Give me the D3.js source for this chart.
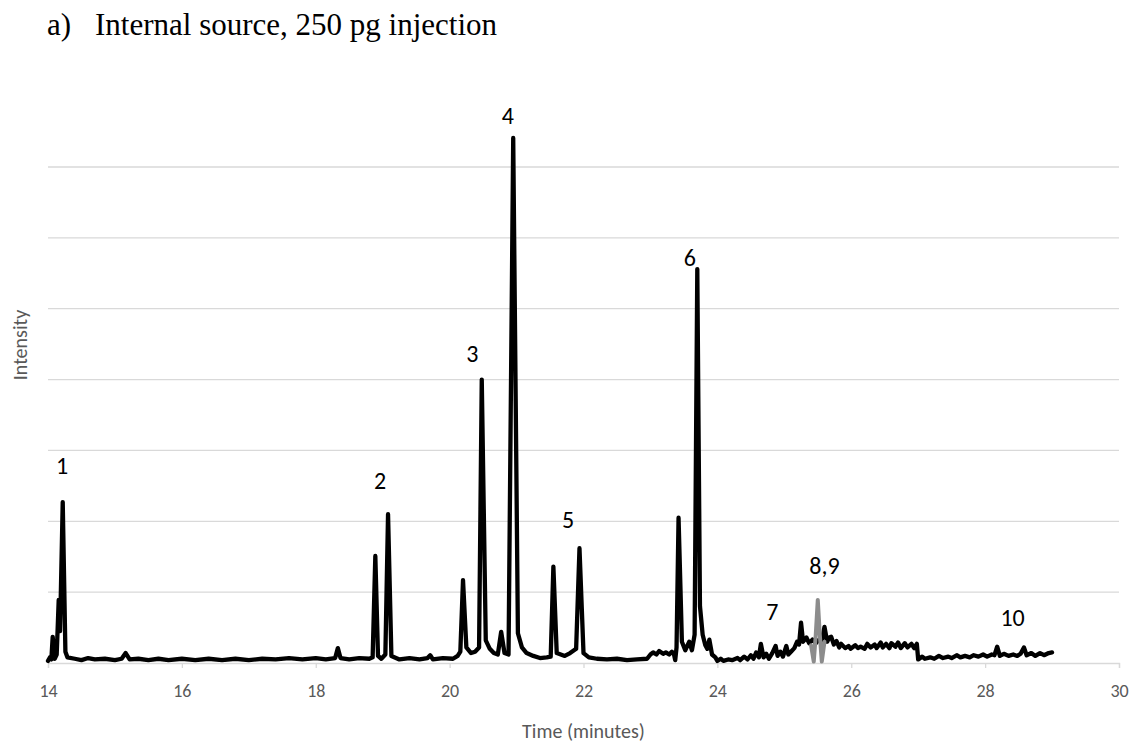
<!DOCTYPE html>
<html>
<head>
<meta charset="utf-8">
<script src="https://cdn.jsdelivr.net/npm/d3@7"></script>
<style>
  body { margin: 0; background: #fff; }
  svg { display: block; }
</style>
</head>
<body>
<div id="chart"></div>
<script>
// chart values (time in minutes, intensity in gridline units)
var xTicks = [14, 16, 18, 20, 22, 24, 26, 28, 30];
var gridLevels = [1, 2, 3, 4, 5, 6, 7];

// main (black) trace: [time, intensity]
var blackTrace = [
  [14.00,0.03],[14.03,0.08],[14.05,0.05],[14.07,0.37],[14.10,0.06],[14.13,0.12],[14.16,0.89],[14.18,0.45],[14.22,2.27],[14.26,0.16],[14.29,0.08],
  [14.4,0.06],[14.5,0.04],[14.6,0.07],[14.7,0.05],[14.85,0.06],[15.0,0.04],[15.1,0.06],[15.16,0.14],[15.22,0.05],[15.35,0.06],[15.5,0.04],
  [15.65,0.06],[15.8,0.04],[16.0,0.06],[16.2,0.04],[16.4,0.06],[16.6,0.04],[16.8,0.06],[17.0,0.04],[17.2,0.06],[17.4,0.05],[17.6,0.07],
  [17.8,0.05],[18.0,0.07],[18.15,0.05],[18.29,0.07],[18.33,0.21],[18.37,0.07],[18.5,0.05],[18.65,0.07],[18.8,0.06],[18.85,0.08],[18.89,1.51],
  [18.93,0.10],[18.98,0.06],[19.04,0.12],[19.08,2.10],[19.13,0.10],[19.25,0.05],[19.4,0.07],[19.55,0.05],[19.67,0.07],[19.71,0.11],[19.75,0.05],
  [19.9,0.07],[20.05,0.06],[20.12,0.10],[20.16,0.16],[20.20,1.17],[20.25,0.22],[20.32,0.14],[20.38,0.16],[20.44,0.22],[20.48,4.00],[20.54,0.32],
  [20.6,0.20],[20.66,0.14],[20.72,0.12],[20.77,0.44],[20.82,0.14],[20.88,0.12],[20.95,7.41],[21.02,0.42],[21.08,0.22],[21.15,0.14],[21.25,0.10],
  [21.35,0.07],[21.45,0.08],[21.51,0.09],[21.55,1.36],[21.60,0.14],[21.66,0.12],[21.72,0.10],[21.8,0.14],[21.89,0.20],[21.94,1.62],[22.00,0.14],
  [22.08,0.08],[22.2,0.06],[22.35,0.05],[22.5,0.06],[22.65,0.04],[22.8,0.05],[22.95,0.06],[23.00,0.12],[23.04,0.15],[23.09,0.12],[23.13,0.17],
  [23.19,0.13],[23.23,0.15],[23.28,0.12],[23.32,0.16],[23.35,0.13],[23.37,0.04],[23.39,0.22],[23.42,2.05],[23.47,0.30],[23.52,0.18],[23.58,0.30],
  [23.62,0.18],[23.66,0.40],[23.70,5.56],[23.74,0.80],[23.78,0.40],[23.82,0.25],[23.85,0.20],[23.88,0.33],[23.92,0.12],[23.97,0.08],[24.0,0.03],
  [24.05,0.06],[24.09,0.03],[24.16,0.05],[24.22,0.04],[24.3,0.07],[24.34,0.04],[24.4,0.09],[24.45,0.05],[24.5,0.11],[24.54,0.06],[24.58,0.15],
  [24.62,0.08],[24.65,0.27],[24.69,0.08],[24.73,0.13],[24.77,0.06],[24.82,0.14],[24.87,0.24],[24.9,0.10],[24.94,0.16],[24.98,0.09],[25.03,0.24],
  [25.06,0.12],[25.11,0.17],[25.15,0.21],[25.19,0.30],[25.22,0.26],[25.25,0.57],[25.28,0.30],[25.33,0.36],[25.37,0.28],[25.42,0.33],[25.47,0.28],
  [25.52,0.33],[25.56,0.30],[25.60,0.51],[25.64,0.30],[25.67,0.36],[25.70,0.37],[25.74,0.26],[25.78,0.31],[25.82,0.22],[25.85,0.27],[25.91,0.21],
  [25.96,0.24],[25.99,0.20],[26.06,0.25],[26.1,0.21],[26.14,0.23],[26.2,0.20],[26.24,0.27],[26.29,0.22],[26.35,0.26],[26.38,0.21],[26.44,0.29],
  [26.47,0.22],[26.52,0.27],[26.57,0.21],[26.6,0.28],[26.66,0.23],[26.7,0.29],[26.74,0.21],[26.8,0.28],[26.84,0.22],[26.9,0.27],[26.94,0.21],
  [26.98,0.27],[27.0,0.05],[27.06,0.09],[27.1,0.06],[27.18,0.08],[27.24,0.06],[27.31,0.10],[27.37,0.07],[27.45,0.09],[27.5,0.07],[27.58,0.11],
  [27.63,0.08],[27.7,0.10],[27.77,0.08],[27.83,0.11],[27.9,0.09],[27.97,0.12],[28.03,0.09],[28.1,0.12],[28.14,0.11],[28.18,0.23],[28.22,0.10],
  [28.28,0.13],[28.35,0.10],[28.42,0.12],[28.48,0.10],[28.53,0.13],[28.58,0.22],[28.62,0.11],[28.69,0.14],[28.75,0.10],[28.82,0.14],[28.88,0.11],
  [28.95,0.14],[29.0,0.15]
];

// grey trace for peaks 8,9
var greyTrace = [[25.40,0.25],[25.44,0.02],[25.47,0.40],[25.50,0.89],[25.53,0.40],[25.56,0.02],[25.60,0.30]];

var peakNames = ["1", "2", "3", "4", "5", "6", "7", "8,9", "10"];
var peakLabelTime = [14.21, 18.96, 20.34, 20.87, 21.77, 23.59, 24.82, 25.60, 28.41];
var peakLabelValue = [2.79, 2.57, 4.36, 7.73, 2.02, 5.72, 0.72, 1.37, 0.64];

var W = 1139, H = 747;
var margin = {left: 48, right: 20, top: 167, bottom: 84};
var sans = "Carlito, Calibri, Lato, sans-serif";

var svg = d3.select("#chart").append("svg")
  .attr("width", W)
  .attr("height", H);

var x = d3.scaleLinear().domain([14, 30]).range([margin.left, W - margin.right]);
var y = d3.scaleLinear().domain([0, 7]).range([H - margin.bottom, margin.top]);

// title
var serif = "'Liberation Serif', 'Times New Roman', serif";
svg.append("text")
  .attr("x", 47).attr("y", 35)
  .attr("font-family", serif).attr("font-size", 31)
  .text("a)");
svg.append("text")
  .attr("x", 95).attr("y", 35)
  .attr("font-family", serif).attr("font-size", 31)
  .text("Internal source, 250 pg injection");

// gridlines
svg.selectAll(".grid")
  .data(gridLevels)
  .enter().append("line")
  .attr("class", "grid")
  .attr("x1", x(14)).attr("x2", x(30))
  .attr("y1", function(d) { return y(d); })
  .attr("y2", function(d) { return y(d); })
  .attr("stroke", "#d9d9d9")
  .attr("stroke-width", 1.3);

// x axis
var xAxis = d3.axisBottom(x).tickValues(xTicks).tickSize(5).tickPadding(16);
var gx = svg.append("g")
  .attr("transform", "translate(0," + y(0) + ")")
  .call(xAxis);
gx.select(".domain").attr("stroke", "#d9d9d9").attr("stroke-width", 1.3);
gx.selectAll(".tick line").attr("stroke", "#d9d9d9").attr("stroke-width", 1.3);
gx.selectAll(".tick text")
  .attr("font-family", sans)
  .attr("font-size", 18)
  .attr("fill", "#595959");

// axis titles
svg.append("text")
  .attr("x", (x(14) + x(30)) / 2).attr("y", 738)
  .attr("text-anchor", "middle")
  .attr("font-family", sans)
  .attr("font-size", 20)
  .attr("fill", "#595959")
  .text("Time (minutes)");

svg.append("text")
  .attr("transform", "translate(27,345) rotate(-90)")
  .attr("text-anchor", "middle")
  .attr("font-family", sans)
  .attr("font-size", 20)
  .attr("fill", "#595959")
  .text("Intensity");

// traces
var line = d3.line()
  .x(function(d) { return x(d[0]); })
  .y(function(d) { return y(d[1]); });

svg.append("path")
  .datum(blackTrace)
  .attr("d", line)
  .attr("fill", "none")
  .attr("stroke", "#000")
  .attr("stroke-width", 4.3)
  .attr("stroke-linejoin", "round")
  .attr("stroke-linecap", "round");

svg.append("path")
  .datum(greyTrace)
  .attr("d", line)
  .attr("fill", "none")
  .attr("stroke", "#8c8c8c")
  .attr("stroke-width", 4)
  .attr("stroke-linejoin", "round")
  .attr("stroke-linecap", "round");

// peak labels
svg.selectAll(".peak")
  .data(peakNames)
  .enter().append("text")
  .attr("class", "peak")
  .attr("x", function(d, i) { return x(peakLabelTime[i]); })
  .attr("y", function(d, i) { return y(peakLabelValue[i]); })
  .attr("dy", "0.35em")
  .attr("text-anchor", "middle")
  .attr("font-family", sans)
  .attr("font-size", 24)
  .attr("fill", "#000")
  .text(function(d) { return d; });
</script>
</body>
</html>
